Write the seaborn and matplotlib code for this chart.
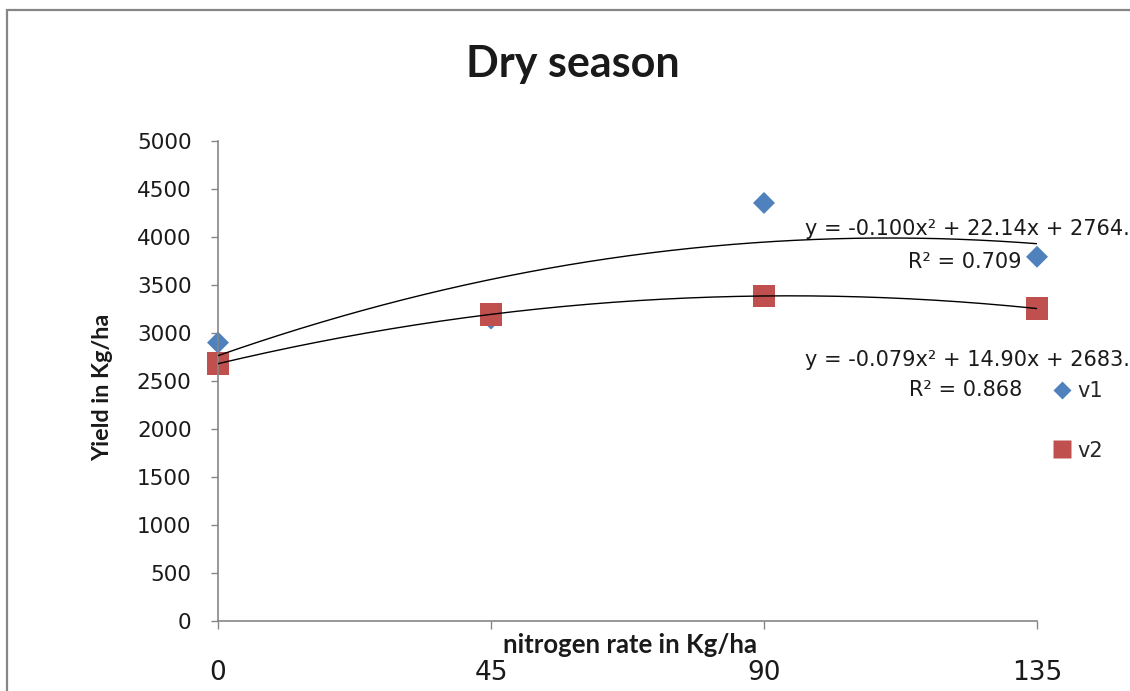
import numpy as np
import pandas as pd
import matplotlib
matplotlib.use("Agg")
import matplotlib.pyplot as plt
import seaborn as sns
from matplotlib.patches import Rectangle
from matplotlib.lines import Line2D

# ---- data ----
nitrogen = [0, 45, 90, 135]
v1 = [2900, 3150, 4355, 3794]
v2 = [2680, 3195, 3385, 3255]
series_names = ["v1", "v2"]
x_ticks = [0, 45, 90, 135]
y_ticks = [0, 500, 1000, 1500, 2000, 2500, 3000, 3500, 4000, 4500, 5000]
eq_v1 = "y = -0.100x² + 22.14x + 2764."
r2_v1 = "R² = 0.709"
eq_v2 = "y = -0.079x² + 14.90x + 2683."
r2_v2 = "R² = 0.868"
title = "Dry season"
xlabel = "nitrogen rate in Kg/ha"
ylabel = "Yield in Kg/ha"

sns.set_theme(style="white")
plt.rcParams["font.family"] = ["DejaVu Sans"]

W, H = 1130, 691
fig = plt.figure(figsize=(W / 100, H / 100), dpi=100)
fig.patch.set_facecolor("white")

left, right, bottom, top = 218 / W, 1037 / W, 1 - 621 / H, 1 - 141 / H
ax = fig.add_axes([left, bottom, right - left, top - bottom])
ax.set_facecolor("white")

blue = "#4F81BD"
red = "#C0504D"
gray = "#868686"
txt = "#1a1a1a"

df = pd.DataFrame({"x": nitrogen * 2, "y": v1 + v2,
                   "series": [series_names[0]] * 4 + [series_names[1]] * 4})

# quadratic trendlines fitted from the data
xx = np.linspace(0, 135, 200)
for vals in (v1, v2):
    coef = np.polyfit(nitrogen, vals, 2)
    sns.lineplot(x=xx, y=np.polyval(coef, xx), ax=ax, color="black",
                 linewidth=1.0, zorder=3, legend=False)

sns.scatterplot(data=df[df.series == "v1"], x="x", y="y", marker="D", s=125,
                color=blue, edgecolor="none", ax=ax, zorder=2, legend=False, clip_on=False)
sns.scatterplot(data=df[df.series == "v2"], x="x", y="y", marker="s", s=270,
                color=red, edgecolor="none", ax=ax, zorder=2, legend=False, clip_on=False)

ax.set_xlim(0, 135)
ax.set_ylim(0, 5000)
ax.set_xticks(x_ticks)
ax.set_yticks(y_ticks)
ax.set_xticklabels([str(t) for t in x_ticks], fontsize=19, color=txt)
ax.set_yticklabels([str(t) for t in y_ticks], fontsize=15.5, color=txt)
ax.tick_params(axis="y", direction="out", length=5, width=1, color=gray, pad=14, left=True)
ax.tick_params(axis="x", direction="out", length=6, width=1, color=gray, pad=22, bottom=True)

for s in ["top", "right"]:
    ax.spines[s].set_visible(False)
for s in ["left", "bottom"]:
    ax.spines[s].set_color(gray)
    ax.spines[s].set_linewidth(1.2)

ax.set_xlabel(xlabel, fontsize=18.5, fontweight="bold", family=["Lato", "DejaVu Sans"], color=txt)
ax.xaxis.set_label_coords((630 - 218) / 819, -0.025)
ax.set_ylabel(ylabel, fontsize=16.8, fontweight="bold", family=["Lato", "DejaVu Sans"], color=txt)
ax.yaxis.set_label_coords(-0.128, 0.4875)

fig.text(573 / W, 1 - 77 / H, title, fontsize=31, fontweight="bold",
         family=["Lato", "DejaVu Sans"], ha="center", va="baseline", color=txt)

# trendline labels
fig.text(805 / W, 1 - 229 / H, eq_v1, fontsize=15, ha="left", va="center", color=txt)
fig.text(1022 / W, 1 - 262 / H, r2_v1, fontsize=15, ha="right", va="center", color=txt)
fig.text(805 / W, 1 - 360 / H, eq_v2, fontsize=15, ha="left", va="center", color=txt)
fig.text(1022 / W, 1 - 390 / H, r2_v2, fontsize=15, ha="right", va="center", color=txt)

# legend
handles = [Line2D([], [], linestyle="none", marker="D", markersize=9, color=blue, markeredgecolor="none"),
           Line2D([], [], linestyle="none", marker="s", markersize=13, color=red, markeredgecolor="none")]
fig.legend(handles, series_names, loc="upper left", bbox_to_anchor=(1052 / W, 1 - 381 / H),
           frameon=False, fontsize=15, handletextpad=0.2, labelspacing=1.9,
           handlelength=1.0, borderpad=0, borderaxespad=0)

# outer chart border (extends beyond the image on right/bottom)
fig.patches.append(Rectangle((7 / W, -0.2), 1.3, 1.2 - 10 / H, transform=fig.transFigure,
                             fill=False, edgecolor=gray, linewidth=1.6, clip_on=False))

fig.savefig("out.png", dpi=100, facecolor="white")
